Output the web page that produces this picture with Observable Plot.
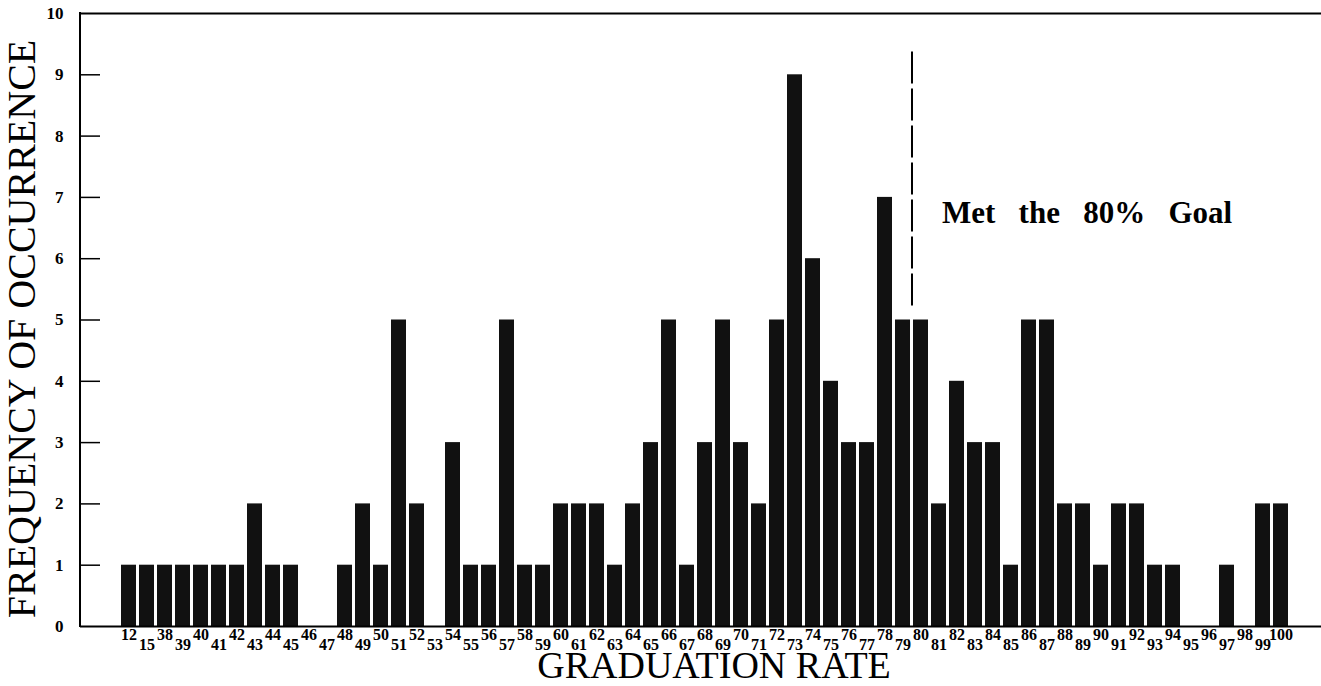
<!DOCTYPE html>
<html>
<head>
<meta charset="utf-8">
<script src="https://cdn.jsdelivr.net/npm/d3@7"></script>
<script src="https://cdn.jsdelivr.net/npm/@observablehq/plot@0.6"></script>
<style>
  html, body { margin: 0; padding: 0; background: #fff; }
  #chart { width: 1321px; height: 686px; }
</style>
</head>
<body>
<div id="chart"></div>
<script>
// Graduation rate categories (x axis tick labels)
const categories = ["12","15","38","39","40","41","42","43","44","45","46","47","48","49","50","51","52","53","54","55","56","57","58","59","60","61","62","63","64","65","66","67","68","69","70","71","72","73","74","75","76","77","78","79","80","81","82","83","84","85","86","87","88","89","90","91","92","93","94","95","96","97","98","99","100"];
// Frequency of occurrence for each category
const counts = [1,1,1,1,1,1,1,2,1,1,0,0,1,2,1,5,2,0,3,1,1,5,1,1,2,2,2,1,2,3,5,1,3,5,3,2,5,9,6,4,3,3,7,5,5,2,4,3,3,1,5,5,2,2,1,2,2,1,1,0,0,1,0,2,2];
// Y axis tick values
const yTicks = [0,1,2,3,4,5,6,7,8,9,10];
const yInnerTicks = [1,2,3,4,5,6,7,8,9];
// Goal marker
const goalLabel = "Met\u2002 the\u2002 80%\u2002 Goal";
const goalLine = [{x: "79", y1: 5.23, y2: 9.38}];
const goalText = [{x: "80", y: 6.58, text: goalLabel}];
const xTitle = "GRADUATION RATE";
const yTitle = "FREQUENCY OF OCCURRENCE";

const data = categories.map((c, i) => ({rate: c, count: counts[i]}));
const upperLabels = categories.filter((c, i) => i % 2 === 0);
const lowerLabels = categories.filter((c, i) => i % 2 === 1);

const W = 1321, H = 686, ML = 80, MR = 0, MT = 13, MB = 60;
const font = "'Liberation Serif', 'Times New Roman', serif";

const chart = Plot.plot({
  width: W, height: H,
  marginLeft: ML, marginRight: MR, marginTop: MT, marginBottom: MB,
  style: {fontFamily: font, background: "#fff", color: "#000"},
  x: {type: "band", domain: categories, range: [118, 1291.5], padding: 0.17, axis: null},
  y: {domain: [0, 10], axis: null},
  marks: [
    Plot.barY(data, {x: "rate", y: "count", fill: "#111"}),
    Plot.ruleY([0], {stroke: "#000", strokeWidth: 2}),
    Plot.ruleY([10], {stroke: "#000", strokeWidth: 2}),
    Plot.ruleY(yInnerTicks, {stroke: "#000", strokeWidth: 1.5, insetRight: (W - ML - MR) - 20}),
    Plot.text(yTicks, {y: d => d, frameAnchor: "left", dx: -17, textAnchor: "end", lineAnchor: "middle", fontSize: 17, fontWeight: "bold", fill: "#000"}),
    Plot.text(upperLabels, {x: d => d, frameAnchor: "bottom", dy: 2, lineAnchor: "top", textAnchor: "middle", fontSize: 16, fontWeight: "bold", fill: "#000"}),
    Plot.text(lowerLabels, {x: d => d, frameAnchor: "bottom", dy: 12, lineAnchor: "top", textAnchor: "middle", fontSize: 16, fontWeight: "bold", fill: "#000"}),
    Plot.ruleX(goalLine, {x: "x", y1: "y1", y2: "y2", dx: 9, stroke: "#000", strokeWidth: 2, strokeDasharray: "32,5"}),
    Plot.text(goalText, {x: "x", y: "y", text: "text", dx: 21, textAnchor: "start", lineAnchor: "bottom", fontSize: 31, fontWeight: "bold", fill: "#000"}),
    Plot.text([xTitle], {frameAnchor: "bottom", dx: 13, dy: 51, lineAnchor: "bottom", textAnchor: "middle", fontSize: 38, fill: "#000"}),
    Plot.text([yTitle], {frameAnchor: "left", rotate: -90, dx: -58, dy: 9, lineAnchor: "middle", textAnchor: "middle", fontSize: 40, fill: "#000"})
  ]
});

// Left axis line, placed from the y scale
const ys = chart.scale("y");
const yA = ys.apply(0), yB = ys.apply(10);
d3.select(chart).append("line")
  .attr("x1", ML).attr("x2", ML)
  .attr("y1", Math.max(yA, yB) + 1).attr("y2", Math.min(yA, yB) - 1)
  .attr("stroke", "#000").attr("stroke-width", 2);

document.getElementById("chart").appendChild(chart);
</script>
</body>
</html>
